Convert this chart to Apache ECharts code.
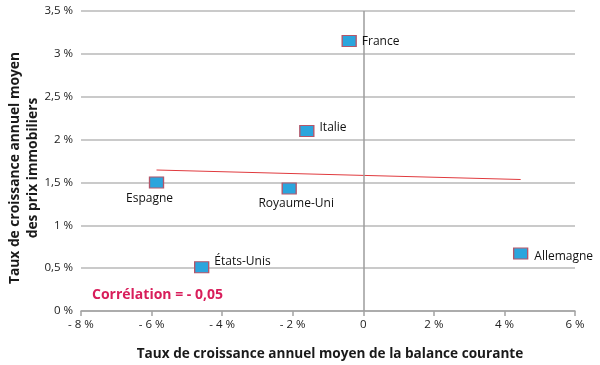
<!DOCTYPE html>
<html>
<head>
<meta charset="utf-8">
<script src="https://cdn.jsdelivr.net/npm/echarts@6/dist/echarts.min.js"></script>
<style>html,body{margin:0;padding:0;background:#fff}#c{width:600px;height:365px}</style>
</head>
<body>
<div id="c"></div>
<script>
// Data
const countries = ['France', 'Italie', 'Espagne', 'Royaume-Uni', 'États-Unis', 'Allemagne'];
const balanceCourante = [-0.4, -1.6, -5.86, -2.1, -4.58, 4.46];
const prixImmobiliers = [3.15, 2.1, 1.5, 1.43, 0.51, 0.67];
const trendX = [-5.86, 4.46];
const trendY = [1.645, 1.534];
const correlationText = 'Corrélation = - 0,05';
const xTitle = 'Taux de croissance annuel moyen de la balance courante';
const yTitle = 'Taux de croissance annuel moyen\ndes prix immobiliers';

const FONT = '"Open Sans", sans-serif';
const labelStyles = {
  'France': {position: 'right', distance: 5, offset: [0, 1]},
  'Italie': {position: 'right', distance: 5, offset: [0, -3]},
  'Espagne': {position: 'bottom', distance: 4, offset: [-7, 0]},
  'Royaume-Uni': {position: 'bottom', distance: 3, offset: [7, 0]},
  'États-Unis': {position: 'right', distance: 5, offset: [0, -6]},
  'Allemagne': {position: 'right', distance: 6, offset: [0, 3]}
};

const scatterData = countries.map((n, i) => ({
  name: n,
  value: [balanceCourante[i], prixImmobiliers[i]],
  label: Object.assign({show: true, formatter: '{b}'}, labelStyles[n])
}));

function fmtX(v) {
  if (v === 0) return '0';
  return (v < 0 ? '- ' + Math.abs(v) : String(v)) + ' %';
}
function fmtY(v) {
  return String(v).replace('.', ',') + ' %';
}

const chart = echarts.init(document.getElementById('c'), null, {renderer: 'canvas'});
chart.setOption({
  animation: false,
  grid: {left: 81, right: 25, top: 11, bottom: 54},
  xAxis: {
    type: 'value', min: -8, max: 6, interval: 2,
    axisLine: {show: true, onZero: false, lineStyle: {color: '#a3a3a3', width: 1.5}},
    axisTick: {show: true, length: 5, lineStyle: {color: '#a3a3a3', width: 1.5}},
    splitLine: {show: false},
    axisLabel: {formatter: fmtX, color: '#222', fontSize: 11.5, fontFamily: FONT, margin: 8}
  },
  yAxis: {
    type: 'value', min: 0, max: 3.5, interval: 0.5,
    axisLine: {show: false},
    axisTick: {show: false},
    splitLine: {show: true, lineStyle: {color: '#b8b8b8', width: 1.5}},
    axisLabel: {formatter: fmtY, color: '#222', fontSize: 11.5, fontFamily: FONT, margin: 8}
  },
  series: [
    {
      type: 'line',
      data: trendX.map((x, i) => [x, trendY[i]]),
      showSymbol: false,
      symbol: 'none',
      lineStyle: {color: '#e03a3e', width: 1},
      z: 3,
      silent: true
    },
    {
      type: 'scatter',
      data: scatterData,
      symbol: 'rect',
      symbolSize: [14, 11],
      itemStyle: {color: '#2ba5dd', borderColor: '#b4566a', borderWidth: 1.2, opacity: 1},
      label: {color: '#111', fontSize: 12, fontFamily: FONT},
      z: 5,
      markLine: {
        silent: true,
        symbol: 'none',
        label: {show: false},
        lineStyle: {color: '#9c9c9c', width: 1.5, type: 'solid'},
        data: [{xAxis: 0}]
      }
    }
  ],
  graphic: [
    {
      type: 'text', x: 330, y: 354,
      style: {text: xTitle, font: 'bold 13.6px ' + FONT, fill: '#1a1a1a', textAlign: 'center', textVerticalAlign: 'middle'}
    },
    {
      type: 'text', x: 24, y: 168, rotation: Math.PI / 2,
      style: {text: yTitle, font: 'bold 13.8px ' + FONT, fill: '#1a1a1a', textAlign: 'center', textVerticalAlign: 'middle', lineHeight: 18}
    },
    {
      type: 'text', x: 92, y: 295,
      style: {text: correlationText, font: 'bold 14px ' + FONT, fill: '#d81e5b', textAlign: 'left', textVerticalAlign: 'middle'}
    }
  ]
});
</script>
</body>
</html>
